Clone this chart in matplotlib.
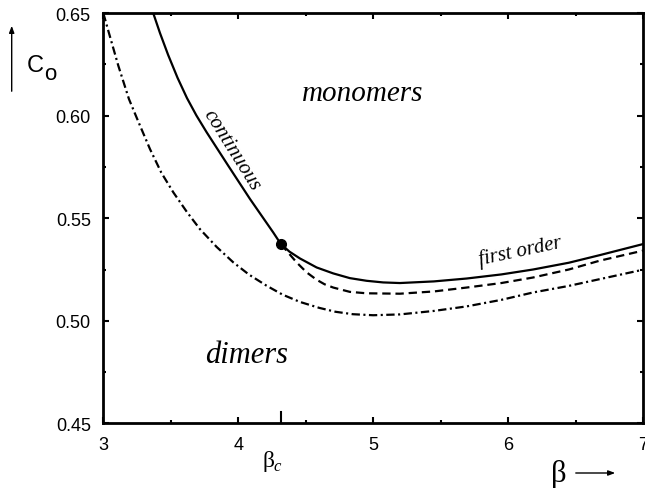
import matplotlib
matplotlib.use("Agg")
import matplotlib.pyplot as plt
from matplotlib.patches import FancyArrowPatch
from matplotlib.ticker import MultipleLocator, FixedLocator

plt.rcParams['lines.scale_dashes'] = False

# Phase boundary (continuous, then first order)
beta_solid = [3.37, 3.42, 3.48, 3.55, 3.62, 3.69, 3.766, 3.926, 4.087, 4.259, 4.316,
              4.38, 4.457, 4.581, 4.704, 4.827, 4.951, 5.074, 5.198, 5.45, 5.692,
              5.95, 6.185, 6.45, 6.679, 7.0]
c_solid = [0.650, 0.6403, 0.6297, 0.6185, 0.6086, 0.6001, 0.5919, 0.5756, 0.5594, 0.5431, 0.5374,
           0.5337, 0.5304, 0.5260, 0.5231, 0.5208, 0.5195, 0.5187, 0.5184, 0.5192, 0.5206,
           0.5226, 0.5250, 0.5283, 0.5320, 0.5374]

# Dashed branch starting at the critical point
beta_dash = [4.316, 4.432, 4.507, 4.581, 4.64, 4.704, 4.827, 4.951, 5.198, 5.45,
             5.692, 5.95, 6.185, 6.45, 6.679, 7.0]
c_dash = [0.5374, 0.5285, 0.5236, 0.5200, 0.5178, 0.5162, 0.5141, 0.5134, 0.5132, 0.5143,
          0.5162, 0.5184, 0.5211, 0.5250, 0.5293, 0.5342]

# Dash-dotted curve
beta_dd = [3.0, 3.04, 3.111, 3.19, 3.26, 3.346, 3.43, 3.519, 3.62, 3.716, 3.84, 3.963,
           4.08, 4.21, 4.33, 4.457, 4.6, 4.72, 4.85, 5.0, 5.198, 5.45, 5.692, 5.95,
           6.185, 6.45, 6.679, 7.0]
c_dd = [0.650, 0.6407, 0.6244, 0.6081, 0.5970, 0.5837, 0.5722, 0.5626, 0.5530, 0.5447, 0.5360, 0.5285,
        0.5225, 0.5171, 0.5127, 0.5092, 0.5063, 0.5044, 0.5032, 0.5027, 0.5031, 0.5048, 0.5070, 0.5102,
        0.5138, 0.5170, 0.5203, 0.5249]

beta_c = 4.316
c_crit = 0.5374

x_ticks = [3, 4, 5, 6, 7]
y_ticks = [0.45, 0.50, 0.55, 0.60, 0.65]

fig = plt.figure(figsize=(6.45, 4.89), dpi=100)
ax = fig.add_axes([0.1602, 0.1323, 0.8367, 0.8387])

ax.plot(beta_solid, c_solid, color='black', lw=1.6, solid_joinstyle='round')
ax.plot(beta_dash, c_dash, color='black', lw=1.6, dashes=(6, 3.5))
ax.plot(beta_dd, c_dd, color='black', lw=1.6, dashes=(6, 2.5, 1.5, 2.5))
ax.plot([beta_c], [c_crit], 'o', color='black', ms=7)

ax.set_xlim(3, 7)
ax.set_ylim(0.45, 0.65)
ax.xaxis.set_major_locator(FixedLocator(x_ticks))
ax.yaxis.set_major_locator(FixedLocator(y_ticks))
ax.xaxis.set_minor_locator(MultipleLocator(0.5))
ax.yaxis.set_minor_locator(MultipleLocator(0.025))
ax.set_xticklabels([str(v) for v in x_ticks])
ax.set_yticklabels([f"{v:.2f}" for v in y_ticks])

for s in ax.spines.values():
    s.set_linewidth(2.0)

ax.tick_params(which='both', direction='in', top=True, right=True, width=1.5)
ax.tick_params(which='major', length=4, pad=9)
ax.tick_params(which='minor', length=2.5)
for lab in ax.get_xticklabels() + ax.get_yticklabels():
    lab.set_fontfamily('Liberation Sans')
    lab.set_fontsize(13)

# taller tick marking beta_c
ax.plot([beta_c, beta_c], [0.45, 0.4555], color='black', lw=1.5, clip_on=False)

serif = 'Liberation Serif'
ax.text(4.92, 0.611, 'monomers', family=serif, style='italic', fontsize=21,
        ha='center', va='center')
ax.text(4.064, 0.4837, 'dimers', family=serif, style='italic', fontsize=22,
        ha='center', va='center')
ax.text(3.95, 0.5837, 'continuous', family=serif, style='italic', fontsize=15,
        ha='center', va='center', rotation=-58, rotation_mode='anchor')
ax.text(6.087, 0.5345, 'first order', family=serif, style='italic', fontsize=15,
        ha='center', va='center', rotation=12, rotation_mode='anchor')

# beta_c label under the axis
fig.text(262 / 645, 1 - 467 / 489, 'β', family=serif, fontsize=17,
         ha='left', va='baseline')
fig.text(273 / 645, 1 - 471 / 489, 'c', family=serif, style='italic', fontsize=12,
         ha='left', va='baseline')

# axis labels with arrows
fig.text(27 / 645, 1 - 72 / 489, 'C', family='Liberation Sans', fontsize=17,
         ha='left', va='baseline')
fig.text(44 / 645, 1 - 80 / 489, 'o', family='Liberation Sans', fontsize=16,
         ha='left', va='baseline')
fig.add_artist(FancyArrowPatch(
    (11.7 / 645, 1 - 95 / 489), (11.7 / 645, 1 - 24 / 489),
    transform=fig.transFigure, arrowstyle='-|>,head_length=4,head_width=1.5',
    lw=1.0, color='black'))

fig.text(551 / 645, 1 - 482 / 489, 'β', family=serif, fontsize=22,
         ha='left', va='baseline')
fig.add_artist(FancyArrowPatch(
    (573 / 645, 1 - 474 / 489), (618 / 645, 1 - 474 / 489),
    transform=fig.transFigure, arrowstyle='-|>,head_length=4,head_width=1.5',
    lw=1.0, color='black'))

fig.savefig('out.png', dpi=100)
